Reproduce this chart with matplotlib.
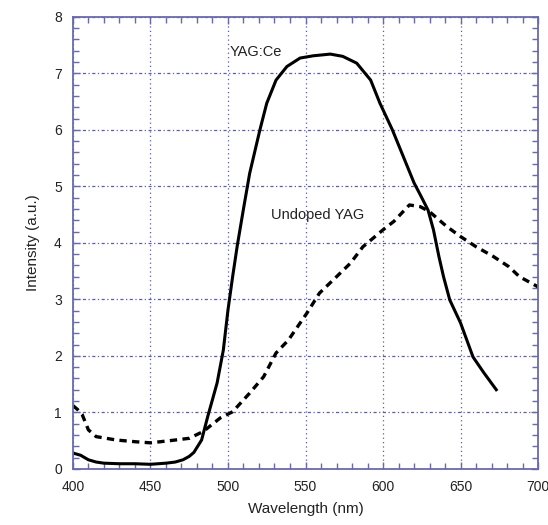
import numpy as np
import matplotlib
matplotlib.use("Agg")
import matplotlib.pyplot as plt
from matplotlib.ticker import MultipleLocator

plt.rcParams['font.family'] = ['Liberation Sans', 'DejaVu Sans']

# YAG:Ce emission (solid)
ce_wl = [400, 405, 410, 415, 420, 430, 440, 450, 460, 466, 471, 475, 478, 483,
         487, 493, 497, 500, 503, 506, 510, 514, 520.6, 525, 531, 538, 546.5,
         555, 566, 574, 583, 592, 598, 606, 613, 620, 624, 629, 632.5, 636, 639,
         643, 650, 658, 665, 673]
ce_int = [0.28, 0.24, 0.16, 0.12, 0.10, 0.09, 0.09, 0.08, 0.10, 0.12, 0.16, 0.22,
          0.29, 0.51, 0.93, 1.52, 2.10, 2.81, 3.40, 3.95, 4.60, 5.23, 6.00, 6.47,
          6.88, 7.12, 7.27, 7.31, 7.34, 7.30, 7.18, 6.88, 6.47, 6.00, 5.53, 5.06,
          4.85, 4.58, 4.23, 3.76, 3.40, 2.99, 2.58, 1.98, 1.70, 1.40]

# Undoped YAG (dashed)
un_wl = [400, 403, 406, 410, 415, 428, 440, 450, 463, 475, 484, 495, 503, 514,
         523, 531, 539, 551, 559, 570, 579, 587, 600, 607, 617, 624, 630, 641,
         650, 660, 671, 681, 688, 700]
un_int = [1.12, 1.05, 0.96, 0.69, 0.57, 0.51, 0.48, 0.46, 0.50, 0.54, 0.66, 0.90,
          1.01, 1.34, 1.63, 2.05, 2.28, 2.76, 3.11, 3.40, 3.64, 3.93, 4.23, 4.38,
          4.67, 4.64, 4.55, 4.29, 4.11, 3.93, 3.76, 3.58, 3.40, 3.22]

fig = plt.figure(figsize=(5.48, 5.25), dpi=100)
ax = fig.add_axes([0.133, 0.107, 0.849, 0.861])

ax.plot(ce_wl, ce_int, color='black', lw=2.2, solid_joinstyle='round')
ax.plot(un_wl, un_int, color='black', lw=2.4, dashes=(2.2, 1.6))

ax.set_xlim(400, 700)
ax.set_ylim(0, 8)
ax.xaxis.set_major_locator(MultipleLocator(50))
ax.xaxis.set_minor_locator(MultipleLocator(10))
ax.yaxis.set_major_locator(MultipleLocator(1))
ax.yaxis.set_minor_locator(MultipleLocator(0.2))

gc = '#5c5cb0'
ax.grid(True, axis='x', which='major', color=gc, lw=0.9, ls=(0, (1, 2.5)))
ax.grid(True, axis='y', which='major', color=gc, lw=0.9, ls=(0, (2.5, 2, 1, 2)))

for s in ax.spines.values():
    s.set_color('#6a6aaa')
    s.set_linewidth(1.3)

ax.tick_params(which='both', direction='in', top=True, right=True,
               color='#6a6aaa', labelsize=10, labelcolor='#222222', pad=8)
ax.tick_params(which='major', length=5, width=1.0)
ax.tick_params(which='minor', length=4, width=1.0)

ax.text(501, 7.38, 'YAG:Ce', fontsize=10.5, color='#222222', va='center', ha='left')
ax.text(528, 4.5, 'Undoped YAG', fontsize=10.5, color='#222222', va='center', ha='left')

ax.set_xlabel('Wavelength (nm)', fontsize=11, color='#222222', labelpad=6)
ax.set_ylabel('Intensity (a.u.)', fontsize=11, color='#222222', labelpad=10)

fig.savefig('out.png', dpi=100)
